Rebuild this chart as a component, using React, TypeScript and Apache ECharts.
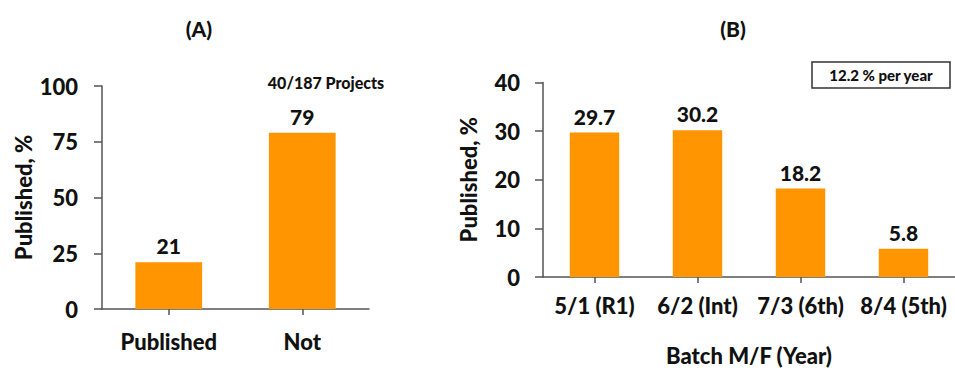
import React, { useEffect, useRef } from "react";
import * as echarts from "echarts";

const catsA = ["Published", "Not"];
const valsA = [21, 79];
const catsB = ["5/1 (R1)", "6/2 (Int)", "7/3 (6th)", "8/4 (5th)"];
const valsB = [29.7, 30.2, 18.2, 5.8];

const FONT = "Lato, 'Open Sans', sans-serif";
const ORANGE = "#FF9500";
const AXIS = "#555555";
const TXT = "#111111";
const W = 900;

export default function App() {
  const ref = useRef<HTMLDivElement>(null);
  useEffect(() => {
    document.body.style.margin = "0";
    const chart = echarts.init(ref.current!, null, { renderer: "svg" });
    const axisLine = { show: true, lineStyle: { color: AXIS, width: 1.5 } };
    const base = { color: TXT, fontFamily: FONT, fontWeight: W };
    const num = { ...base, fontSize: 21 };
    const word = { ...base, fontSize: 22 };
    chart.setOption({
      animation: false,
      textStyle: { fontFamily: FONT },
      grid: [
        { left: 102, top: 86, width: 267, height: 223 },
        { left: 543, top: 82.5, width: 416, height: 199.5 },
      ],
      xAxis: [
        {
          type: "category",
          gridIndex: 0,
          data: catsA,
          axisLine,
          axisTick: { show: true, alignWithLabel: true, length: 6, lineStyle: { color: AXIS, width: 1.5 } },
          axisLabel: { ...word, margin: 21, interval: 0 },
        },
        {
          type: "category",
          gridIndex: 1,
          data: catsB,
          axisLine,
          axisTick: { show: true, alignWithLabel: true, length: 6, lineStyle: { color: AXIS, width: 1.5 } },
          axisLabel: { ...word, margin: 17, interval: 0 },
          name: "Batch M/F (Year)",
          nameLocation: "middle",
          nameGap: 67,
          nameTextStyle: { ...word },
        },
      ],
      yAxis: [
        {
          type: "value",
          gridIndex: 0,
          min: 0,
          max: 100,
          interval: 25,
          splitLine: { show: false },
          axisLine,
          axisTick: { show: true, length: 8, lineStyle: { color: AXIS, width: 1.5 } },
          axisLabel: { ...word, margin: 24 },
          name: "Published, %",
          nameLocation: "middle",
          nameGap: 68,
          nameTextStyle: { ...word },
        },
        {
          type: "value",
          gridIndex: 1,
          min: 0,
          max: 40,
          interval: 10,
          splitLine: { show: false },
          axisLine,
          axisTick: { show: true, length: 8, lineStyle: { color: AXIS, width: 1.5 } },
          axisLabel: { ...word, margin: 23 },
          name: "Published, %",
          nameLocation: "middle",
          nameGap: 64,
          nameTextStyle: { ...word },
        },
      ],
      series: [
        {
          type: "bar",
          xAxisIndex: 0,
          yAxisIndex: 0,
          data: valsA,
          barWidth: "50%",
          itemStyle: { color: ORANGE },
          label: { show: true, position: "top", distance: 6, ...num },
        },
        {
          type: "bar",
          xAxisIndex: 1,
          yAxisIndex: 1,
          data: valsB,
          barWidth: "48%",
          itemStyle: { color: ORANGE },
          label: { show: true, position: "top", distance: 6, ...num },
        },
      ],
      graphic: [
        {
          type: "text",
          x: 199,
          y: 28,
          style: { text: "(A)", fontFamily: FONT, fontWeight: W, fontSize: 21, fill: TXT, textAlign: "center", textVerticalAlign: "middle" },
        },
        {
          type: "text",
          x: 733,
          y: 28,
          style: { text: "(B)", fontFamily: FONT, fontWeight: W, fontSize: 21, fill: TXT, textAlign: "center", textVerticalAlign: "middle" },
        },
        {
          type: "text",
          x: 326,
          y: 82,
          style: { text: "40/187 Projects", fontFamily: FONT, fontWeight: W, fontSize: 16, fill: TXT, textAlign: "center", textVerticalAlign: "middle" },
        },
        {
          type: "rect",
          shape: { x: 812, y: 62, width: 138, height: 26 },
          style: { fill: "#ffffff", stroke: "#333333", lineWidth: 1.5 },
        },
        {
          type: "text",
          x: 881,
          y: 75,
          style: { text: "12.2 % per year", fontFamily: FONT, fontWeight: W, fontSize: 15, fill: TXT, textAlign: "center", textVerticalAlign: "middle" },
        },
      ],
    });
    return () => chart.dispose();
  }, []);
  return <div ref={ref} style={{ position: "absolute", left: 0, top: 0, width: 955, height: 371 }} />;
}
